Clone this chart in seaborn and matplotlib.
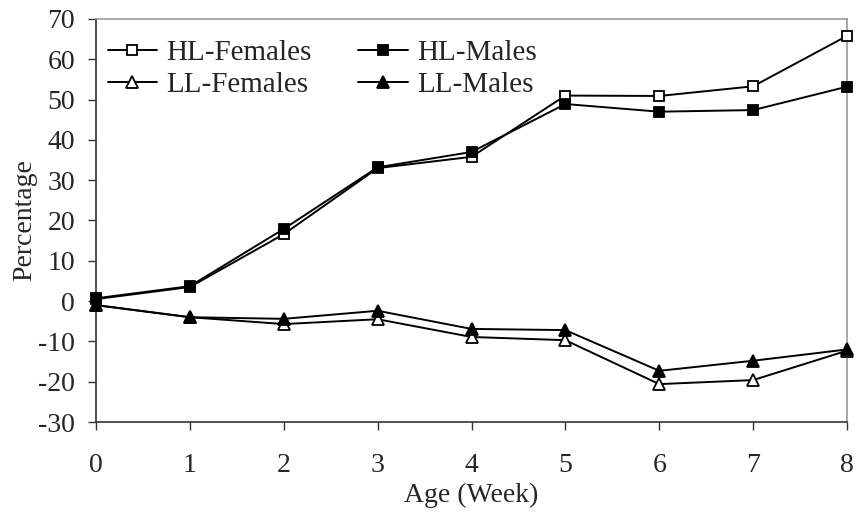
import matplotlib
matplotlib.use("Agg")
import matplotlib.pyplot as plt
import seaborn as sns
import pandas as pd

weeks = [0, 1, 2, 3, 4, 5, 6, 7, 8]
hl_females = [0.5, 3.5, 16.6, 33.0, 35.8, 51.0, 50.9, 53.3, 65.8]
hl_males = [0.7, 3.7, 17.9, 33.2, 37.0, 48.9, 47.0, 47.4, 53.2]
ll_females = [-1.0, -4.0, -5.7, -4.5, -8.9, -9.7, -20.6, -19.6, -12.3]
ll_males = [-1.0, -4.0, -4.4, -2.4, -6.9, -7.2, -17.3, -14.8, -12.0]
labels = ["HL-Females", "HL-Males", "LL-Females", "LL-Males"]

sns.set_style("ticks")
plt.rcParams["font.family"] = ["Liberation Serif", "DejaVu Serif"]
plt.rcParams["axes.unicode_minus"] = False

fig = plt.figure(figsize=(8.56, 5.13), dpi=100)
ax = fig.add_axes([96/856, 1-422/513, (847-96)/856, (422-19)/513])

series = [
    (hl_females, "s", "white", 7),
    (hl_males, "s", "black", 7),
    (ll_females, "^", "white", 9),
    (ll_males, "^", "black", 9),
]
for (vals, mk, fc, ms), lab in zip(series, labels):
    df = pd.DataFrame({"Week": weeks, "Value": vals})
    sns.lineplot(data=df, x="Week", y="Value", ax=ax, color="black",
                 linewidth=1.4, marker=mk, markersize=ms,
                 markerfacecolor=fc, markeredgecolor="black",
                 markeredgewidth=1.3, clip_on=False, zorder=3, label=lab)

ax.set_xlim(0, 8)
ax.set_ylim(-30, 70)
ax.set_xticks(range(0, 9))
ax.set_yticks(range(-30, 71, 10))
ax.tick_params(axis="both", labelsize=20, length=6, width=1, color="#333333",
               direction="out")
ax.tick_params(axis="x", pad=16)
ax.tick_params(axis="y", pad=9)
ax.set_xlabel("Age (Week)", fontsize=20, labelpad=4)
ax.set_ylabel("Percentage", fontsize=20, labelpad=1)

for s in ["left", "bottom"]:
    ax.spines[s].set_color("#333333")
    ax.spines[s].set_linewidth(1.2)
for s in ["top", "right"]:
    ax.spines[s].set_visible(True)
    ax.spines[s].set_color("#999999")
    ax.spines[s].set_linewidth(1.2)

h, l = ax.get_legend_handles_labels()
order = [0, 2, 1, 3]
ax.legend([h[i] for i in order], [l[i] for i in order], ncol=2, frameon=False,
          fontsize=21, loc="upper left", bbox_to_anchor=(0.0, 0.977),
          handlelength=1.7, handletextpad=0.31, columnspacing=1.6,
          labelspacing=0.17, borderaxespad=0.2, borderpad=0.2)

fig.savefig("out.png", dpi=100)
